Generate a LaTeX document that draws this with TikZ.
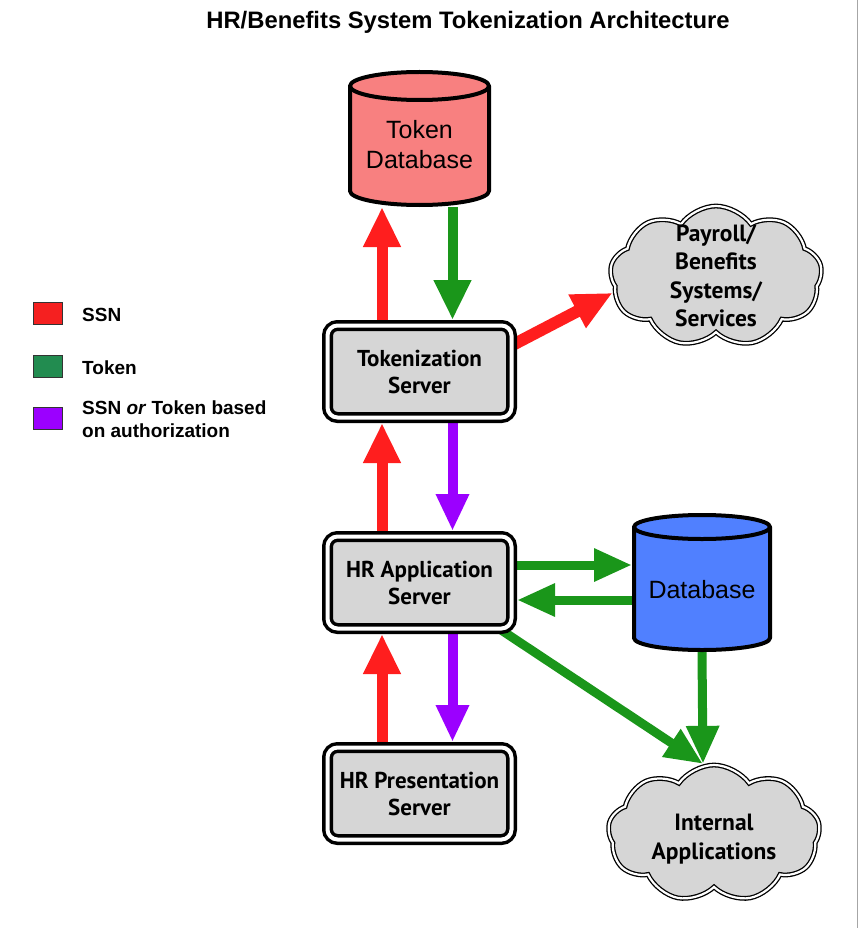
\documentclass[tikz,border=0pt]{standalone}
\usepackage{fontspec}
\setmainfont{Liberation Sans}
\newfontfamily\gillfont{PT Sans}
\usetikzlibrary{arrows.meta,shapes.symbols,backgrounds}
\definecolor{ssnred}{RGB}{255,30,30}
\definecolor{tokgreen}{RGB}{26,150,26}
\definecolor{authpurple}{RGB}{155,0,255}
\definecolor{leggreen}{RGB}{34,140,80}
\definecolor{legred}{RGB}{245,32,32}
\definecolor{boxgray}{RGB}{214,214,214}
\definecolor{tdbred}{RGB}{248,128,128}
\definecolor{dbblue}{RGB}{80,128,255}
\begin{document}
\begin{tikzpicture}[x=1pt,y=-1pt,
  server/.style={rectangle, rounded corners=10pt, draw=black, line width=3.5pt,
    double=white, double distance=4pt, fill=boxgray, minimum width=184pt,
    minimum height=92pt, inner sep=0pt, outer sep=5.5pt, align=center,
    font=\gillfont\bfseries\fontsize{23}{27}\selectfont},
  cloudbox/.style={cloud, cloud puffs=9, cloud puff arc=110, aspect=1.5,
    draw=black, line width=1.3pt, double=white, double distance=2.2pt,
    fill=boxgray, inner sep=0pt, outer sep=2.5pt},
  cloudtxt/.style={align=center, inner sep=0pt,
    font=\gillfont\bfseries\fontsize{23.5}{28.5}\selectfont},
  anchorbox/.style={rectangle, draw=none, inner sep=0pt, outer sep=0pt},
  cylline/.style={draw=black, line width=4pt, line join=round},
  cyltxt/.style={align=center, inner sep=0pt, font=\fontsize{25}{30}\selectfont},
  legsq/.style={rectangle, draw=black!80, line width=1pt, minimum width=29pt,
    minimum height=22pt, inner sep=0pt},
  legtxt/.style={anchor=west, align=left, inner sep=0pt,
    font=\bfseries\fontsize{19}{23}\selectfont},
  bigarr/.style={line width=11pt, -{Triangle[width=35pt,length=40pt]}},
  midarr/.style={line width=9pt, -{Triangle[width=31pt,length=38pt]}}
]
\useasboundingbox (0,0) rectangle (860,928);

% title
\node[font=\bfseries\fontsize{23.8}{28}\selectfont, inner sep=0pt] (title) at (468,22)
  {HR/Benefits System Tokenization Architecture};

% Token database cylinder
\filldraw[cylline, fill=tdbred] (350,86) -- (350,191)
  arc[start angle=180, end angle=0, x radius=69.5, y radius=14] -- (489,86)
  arc[start angle=0, end angle=-180, x radius=69.5, y radius=14] -- cycle;
\draw[cylline] (350,86) arc[start angle=180, end angle=0, x radius=69.5, y radius=14];
\node[anchorbox, minimum width=143pt, minimum height=137pt] (tdb) at (419.5,138.5) {};
\node[cyltxt] (tdbtxt) at (419.5,145) {Token\\Database};

% Database cylinder
\filldraw[cylline, fill=dbblue] (634,527) -- (634,638)
  arc[start angle=180, end angle=0, x radius=68, y radius=12] -- (770,527)
  arc[start angle=0, end angle=-180, x radius=68, y radius=12] -- cycle;
\draw[cylline] (634,527) arc[start angle=180, end angle=0, x radius=68, y radius=12];
\node[anchorbox, minimum width=140pt, minimum height=139pt] (db) at (702,582.5) {};
\node[cyltxt] (dbtxt) at (702,590) {Database};

% servers
\node[server] (tok) at (419.5,371.5) {Tokenization\\Server};
\node[server] (hra) at (419.5,582.5) {HR Application\\Server};
\node[server] (pres) at (419.5,793.5) {HR Presentation\\Server};

% clouds
\node[cloudbox, minimum width=212pt, minimum height=141pt] (pay) at (716,276.5) {};
\node[cloudtxt] (paytxt) at (716,276) {Payroll/\\Benefits\\Systems/\\Services};
\node[cloudbox, minimum width=212pt, minimum height=137pt] (int) at (714,833.5) {};
\node[cloudtxt] (inttxt) at (714,839) {Internal\\Applications};

% legend
\node[legsq, fill=legred] (lsq1) at (47.5,313) {};
\node[legsq, fill=leggreen] (lsq2) at (47.5,366.5) {};
\node[legsq, fill=authpurple] (lsq3) at (47.5,418) {};
\node[legtxt] (ltx1) at (82,315) {SSN};
\node[legtxt] (ltx2) at (82,368) {Token};
\node[legtxt] (ltx3) at (82,419.5) {SSN \textit{or} Token based\\on authorization};

% connectors
\begin{scope}[on background layer]
\draw[bigarr, ssnred] ([xshift=-37.5pt]tok.north) -- ([xshift=-37.5pt]tdb.south);
\draw[bigarr, tokgreen, line width=10pt] ([xshift=33pt]tdb.south) -- ([xshift=33pt]tok.north);
\draw[bigarr, ssnred] ([xshift=-37.5pt]hra.north) -- ([xshift=-37.5pt]tok.south);
\draw[bigarr, authpurple, line width=10pt, -{Triangle[width=31pt,length=37pt]}] ([xshift=33pt]tok.south) -- ([xshift=33pt]hra.north);
\draw[bigarr, ssnred] ([xshift=-37.5pt]pres.north) -- ([xshift=-37.5pt]hra.south);
\draw[bigarr, authpurple, line width=10pt, -{Triangle[width=31pt,length=37pt]}] ([xshift=33pt]hra.south) -- ([xshift=33pt]pres.north);
\draw[bigarr, ssnred, line width=12pt] ([yshift=-22pt]tok.center) -- (pay.189);
\draw[midarr, tokgreen] ([yshift=17.5pt]hra.east) -- ([yshift=17.5pt]db.west);
\draw[midarr, tokgreen] ([yshift=-17.5pt]db.west) -- ([yshift=-17.5pt]hra.east);
\draw[midarr, tokgreen] (db.south) -- (int.99);
\draw[midarr, tokgreen] ([xshift=10pt]hra.center) -- (int.99);
\end{scope}

% page edge
\draw[black!35, line width=1pt] (857.5,0) -- (857.5,928);
\end{tikzpicture}
\end{document}
